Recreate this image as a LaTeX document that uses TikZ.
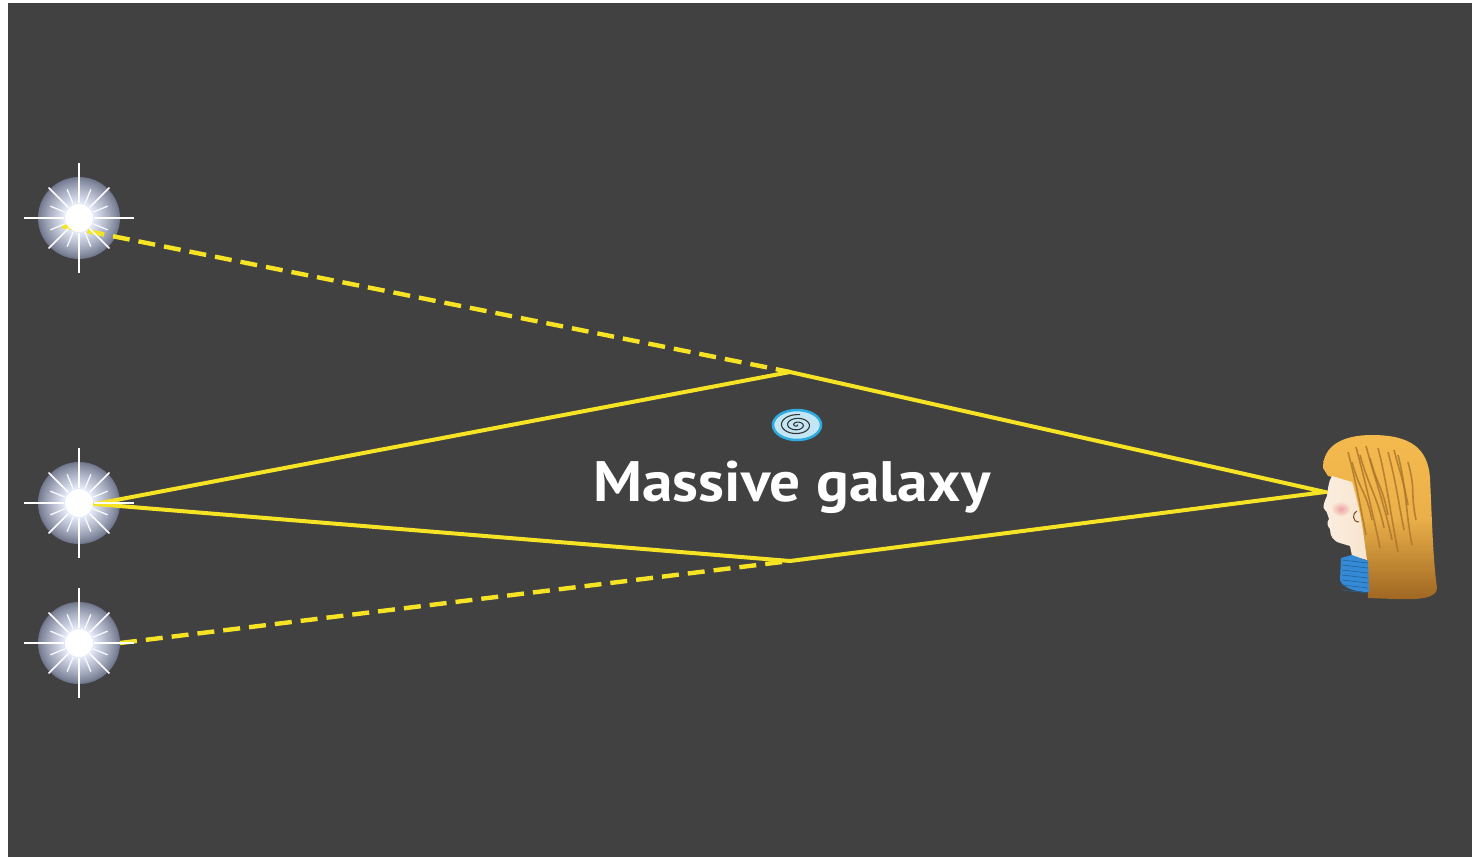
\documentclass[tikz,border=0pt]{standalone}
\usepackage{fontspec}
\newfontfamily\labelfont{PT Sans}
\usetikzlibrary{calc}
\definecolor{sky}{RGB}{66,65,66}
\definecolor{beam}{RGB}{246,228,36}
\definecolor{glowout}{RGB}{112,118,140}
\definecolor{glowin}{RGB}{232,238,252}
\definecolor{hairlight}{RGB}{245,186,78}
\definecolor{hairdark}{RGB}{158,102,34}
\definecolor{streak}{RGB}{170,116,44}
\definecolor{skin}{RGB}{248,228,206}
\definecolor{blush}{RGB}{240,160,170}
\definecolor{jumper}{RGB}{52,138,214}
\definecolor{discblue}{RGB}{195,230,245}
\definecolor{discrim}{RGB}{45,172,226}
\tikzset{
  halo/.pic={
    \foreach \r [evaluate=\r as \p using {100*((41-\r)/27)^0.85}] in {41,40,...,14}
      \fill[glowin!\p!glowout] (0,0) circle (\r);},
  burst/.pic={
    \foreach \a in {0,90,180,270} \draw[white,line width=1.3] (\a:15) -- (\a:55);
    \foreach \a in {45,135,225,315} \draw[white!90!glowin,line width=1.5] (\a:15) -- (\a:43);
    \foreach \a in {22.5,67.5,...,337.5} \draw[white!70!glowin,line width=1.3] (\a:15) -- (\a:31);
    \fill[white] (0,0) circle (14);},
  ray/.style={beam,line width=4},
  lost/.style={ray,line width=4.4,dash pattern=on 17 off 9}
}
\begin{document}
\begin{tikzpicture}[x=1pt,y=-1pt]
\useasboundingbox (0,0) rectangle (1472,857);
\fill[white] (0,0) rectangle (1472,857);
\fill[sky] (8,3) rectangle (1472,857);

\coordinate (s1) at (79,218);
\coordinate (s2) at (79,503);
\coordinate (s3) at (79,643);
\coordinate (up) at (790,372);
\coordinate (lo) at (790,561);
\coordinate (eye) at (1325,492);
\coordinate (s1out) at (62,226);
\coordinate (s2out) at (95,504);
\coordinate (s3out) at (120,643);

\foreach \s in {s1,s2,s3} \pic at (\s) {halo};
\draw[lost] (s1out) -- (up);
\draw[lost] (s3out) -- (lo);
\draw[ray,line join=miter] (s2out) -- (up) -- (eye) -- (lo) -- cycle;
\foreach \s in {s1,s2,s3} \pic at (\s) {burst};

\draw[discrim,line width=2.5,fill=discblue] (797,425) ellipse (24 and 15);
\draw[sky!80!black,line width=1.1,domain=0:1000,samples=90,variable=\t]
  plot ({797+\t/58*cos(\t)},{425+\t/95*sin(\t)});
\node[text=white,xscale=1.075,font=\labelfont\bfseries\fontsize{57}{60}\selectfont] (label) at (792,487) {Massive galaxy};

\shade[top color=hairlight,bottom color=hairdark,middle color=hairlight!88!hairdark]
  (1323,468) .. controls (1323,446) and (1342,435) .. (1372,435)
  .. controls (1410,435) and (1428,448) .. (1430,478)
  .. controls (1432,520) and (1433,560) .. (1437,588)
  .. controls (1437,598) and (1420,600) .. (1395,599)
  -- (1368,598) -- (1367,560)
  .. controls (1360,540) and (1355,510) .. (1345,480)
  -- (1328,476) -- cycle;
\foreach \a/\b/\c/\d in {1348/452/1366/535,1356/447/1380/548,1366/446/1392/540,1378/448/1398/552,
  1388/452/1404/530,1398/455/1412/545,1408/462/1416/520,1352/462/1372/520,1370/458/1388/515,
  1360/455/1384/528,1394/450/1408/505}
  \draw[streak,line width=1.6,opacity=0.8] (\a,\b) .. controls (\a+8,\b+30) and (\c-6,\d-30) .. (\c,\d);
\shade[left color=skin!60!white,right color=skin]
  (1332,476) .. controls (1328,482) and (1328,490) .. (1327,496)
  .. controls (1324,502) and (1322,508) .. (1325,510)
  .. controls (1328,512) and (1327,516) .. (1329,519)
  .. controls (1326,523) and (1328,527) .. (1330,529)
  .. controls (1330,536) and (1333,541) .. (1340,543)
  -- (1350,546) -- (1352,556) -- (1367,560)
  .. controls (1364,540) and (1362,515) .. (1352,482)
  -- cycle;
\shade[inner color=blush,outer color=skin] (1341,509) ellipse (9 and 7);
\draw[streak!70!black,line width=1] (1357,511) .. controls (1352,513) and (1352,522) .. (1359,522);
\fill[jumper] (1341,558) -- (1352,555) -- (1368,561) -- (1369,592)
  .. controls (1355,592) and (1343,588) .. (1340,580) -- cycle;
\foreach \k in {0,...,6}
  \draw[jumper!70!black,line width=0.6] (1342,560+5*\k) -- (1368,563+5*\k);
\end{tikzpicture}
\end{document}
